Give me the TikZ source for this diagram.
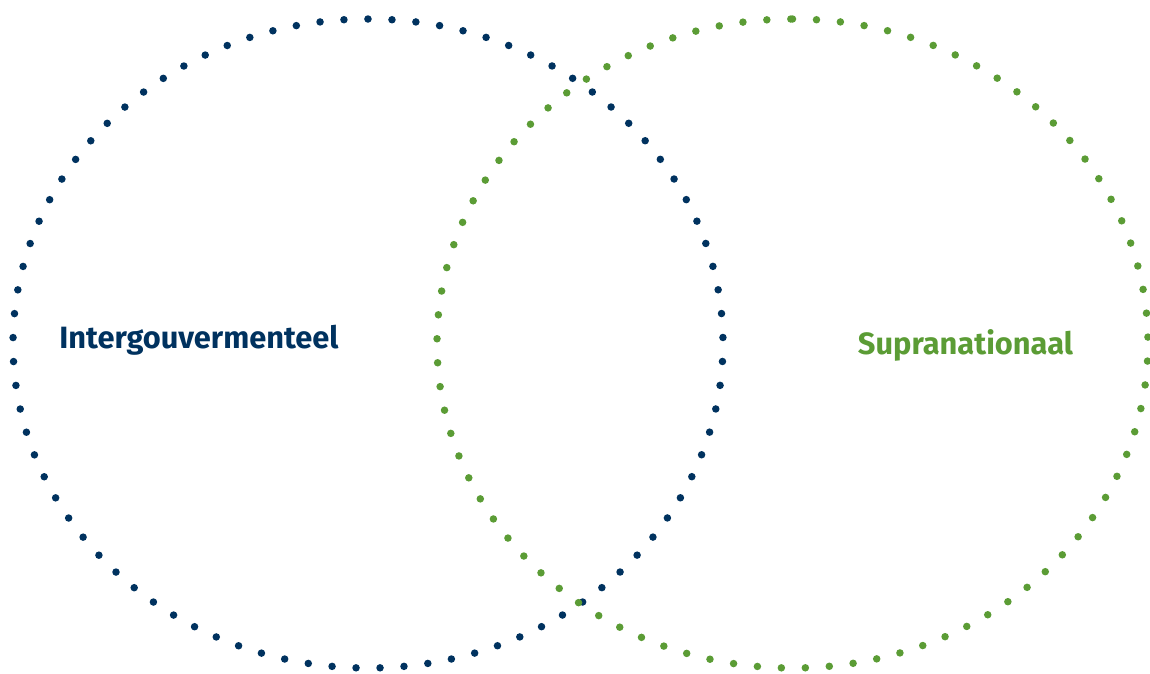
\documentclass[tikz,border=0pt]{standalone}
\usepackage{fontspec}
\setmainfont{Fira Sans}
\definecolor{navy}{HTML}{00325F}
\definecolor{leaf}{HTML}{5B9C35}
\begin{document}
\begin{tikzpicture}[x=1pt,y=-1pt,
  dotring/.style={line width=7.5pt,line cap=round,dash pattern=on 0pt off 24pt},
  lbl/.style={font=\fontsize{30.8}{36}\selectfont\bfseries,inner sep=0pt}]
\useasboundingbox (0,0) rectangle (1150,673);
\draw[dotring,navy] (368,19) arc[start angle=-90,end angle=270,x radius=355,y radius=324.5];
\draw[dotring,leaf] (792.5,19) arc[start angle=-90,end angle=270,x radius=355.5,y radius=324.5];
\node[lbl,text=navy] (inter) at (199,340) {Intergouvermenteel};
\node[lbl,text=leaf] (supra) at (965.5,345) {Supranationaal};
\end{tikzpicture}
\end{document}
